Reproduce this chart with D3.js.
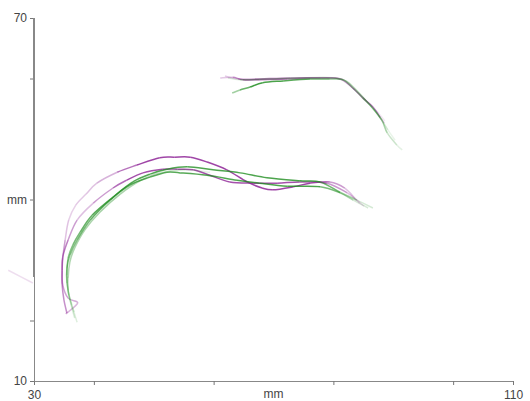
<!DOCTYPE html>
<html>
<script src="https://cdn.jsdelivr.net/npm/d3@7"></script>
<style>
    body { margin: 0; background: #fff; }
    .tick text { font-family: "Liberation Sans", Arial, sans-serif; font-size: 12px; fill: #444; }
    .tick line { stroke: #777; }
    .domain { stroke: #888; }
</style>
<body></body>
<script>
    const width = 530,
        height = 401;

    // x/y in mm
    const purpleOuter = [[35.5,21.2],[35.0,23.4],[34.7,25.9],[34.7,28.3],[34.8,30.3],[35.2,33.3],[35.8,36.6],[37.0,39.1],[38.7,40.9],[40.5,42.7],[43.9,44.5],[47.2,45.7],[51.0,46.9],[53.5,47.0],[56.1,47.0],[58.9,46.2],[62.2,44.9],[65.6,42.9],[68.1,41.9],[69.9,41.6],[73.3,42.1],[76.1,42.7],[79.4,42.9],[81.9,41.9],[83.6,40.2],[84.4,39.4]];
    const purpleInner = [[35.3,21.1],[37.3,22.9],[35.7,23.7],[34.8,25.9],[34.7,28.3],[34.8,30.5],[35.7,33.3],[37.2,36.6],[39.9,39.4],[43.2,41.9],[45.5,43.2],[48.2,44.4],[51.5,45.0],[54.0,45.0],[56.6,44.9],[59.4,44.0],[62.7,42.9],[66.6,42.7],[70.6,42.7],[74.4,42.9],[78.9,42.7],[82.3,41.1],[83.9,39.9],[85.1,38.9]];
    const greenUpper = [[37.2,19.7],[36.3,22.6],[35.7,25.0],[35.5,27.5],[35.7,30.3],[36.5,32.5],[37.7,34.6],[39.7,37.4],[43.2,40.4],[46.5,42.9],[49.4,44.2],[52.2,45.0],[55.6,45.4],[59.9,44.9],[64.4,44.4],[68.9,43.6],[74.4,43.1],[77.8,42.9],[81.1,41.2],[83.9,39.9],[86.6,38.6]];
    const greenLower = [[36.8,20.4],[36.0,23.4],[35.5,26.2],[35.5,28.7],[36.0,30.8],[37.2,33.3],[39.4,36.6],[42.7,39.9],[46.0,42.4],[49.4,43.7],[52.2,44.5],[54.4,44.4],[58.9,44.0],[63.9,43.2],[67.7,42.7],[72.3,42.2],[77.8,42.1],[81.1,41.1],[83.3,39.9],[85.8,38.6]];
    const greenThird = [[36.7,21.4],[35.8,24.2],[35.7,27.0],[36.0,29.7],[36.8,32.0],[38.5,35.0],[41.0,37.9],[44.4,40.9],[47.7,43.1],[51.0,44.4],[55.2,44.9],[59.4,44.5]];
    const purpleTop1 = [[61.1,60.1],[63.2,60.2],[64.9,59.8],[67.7,59.8],[72.3,59.9],[76.1,60.1],[79.4,60.1],[81.6,59.8],[83.3,58.4],[84.9,56.8],[86.6,55.3],[87.8,53.6],[88.5,52.6]];
    const purpleTop2 = [[61.9,60.4],[64.1,59.9],[66.9,59.9],[72.8,60.1],[77.8,60.1],[81.1,59.9],[83.6,58.1],[85.8,56.0],[87.5,54.3],[88.6,53.0]];
    const greenTop1 = [[63.1,57.6],[64.4,58.1],[66.1,58.6],[68.2,59.3],[71.6,59.6],[76.1,59.9],[79.4,59.9],[81.6,59.8],[83.3,58.4],[84.9,56.8],[86.6,55.1],[88.1,53.1],[89.0,51.0],[90.6,49.0],[91.5,48.2]];
    const greenTop2 = [[62.4,60.1],[64.4,59.8],[68.6,59.9],[74.4,60.1],[80.3,60.1],[82.4,59.4],[84.1,57.8],[86.1,55.6],[87.8,53.5],[89.1,51.5],[90.3,49.8]];
    const stray = [[25.7,28.3],[29.8,26.2]];

    const xTicks = [30, 40, 60, 80, 100, 110];
    const yTicks = [70, 60, 40, 20, 10];

    const purple = "#8e2496",
        green = "#1d8c1d";

    // opacity stops along each trace (fraction of length, opacity)
    const traces = [
        {data: purpleOuter, color: purple, stops: [[0,0.5],[0.12,0.55],[0.22,0.2],[0.35,0.3],[0.45,0.85],[0.85,0.85],[1,0.12]]},
        {data: purpleInner, color: purple, stops: [[0,0.3],[0.1,0.45],[0.18,0.6],[0.3,0.25],[0.42,0.8],[0.85,0.8],[1,0.12]]},
        {data: greenUpper, color: green, stops: [[0,0.08],[0.12,0.45],[0.3,0.75],[0.85,0.8],[1,0.08]]},
        {data: greenLower, color: green, stops: [[0,0.1],[0.12,0.45],[0.3,0.7],[0.85,0.8],[1,0.08]]},
        {data: greenThird, color: green, stops: [[0,0.08],[0.2,0.35],[0.6,0.4],[1,0.08]]},
        {data: purpleTop1, color: purple, stops: [[0,0.1],[0.15,0.75],[0.45,0.55],[0.7,0.4],[0.9,0.7],[1,0.15]]},
        {data: purpleTop2, color: purple, stops: [[0,0.12],[0.2,0.6],[0.5,0.55],[0.8,0.25],[1,0.08]]},
        {data: greenTop1, color: green, stops: [[0,0.3],[0.1,0.85],[0.4,0.7],[0.6,0.3],[0.8,0.5],[1,0.08]]},
        {data: greenTop2, color: green, stops: [[0,0.08],[0.15,0.4],[0.5,0.25],[0.8,0.35],[1,0.05]]},
        {data: stray, color: purple, stops: [[0,0.05],[0.5,0.15],[1,0.1]]}
    ];

    const svg = d3.select("body").append("svg").attr("width", width).attr("height", height);

    const x = d3.scaleLinear().domain([30, 110]).range([34, 513]);
    const y = d3.scaleLinear().domain([10, 70]).range([381, 18]);

    // traces, drawn as catmull-rom pieces so each piece can have its own opacity
    const g = svg.append("g");
    for (const tr of traces) {
        const p = tr.data.map(d => [x(d[0]), y(d[1])]);
        const lens = [0];
        for (let i = 1; i < p.length; i++) {
            lens.push(lens[i - 1] + Math.hypot(p[i][0] - p[i - 1][0], p[i][1] - p[i - 1][1]));
        }
        const total = lens[lens.length - 1];
        const op = d3.scaleLinear().domain(tr.stops.map(s => s[0])).range(tr.stops.map(s => s[1]));
        for (let i = 0; i < p.length - 1; i++) {
            const p0 = p[Math.max(i - 1, 0)], p1 = p[i], p2 = p[i + 1], p3 = p[Math.min(i + 2, p.length - 1)];
            const c1 = [p1[0] + (p2[0] - p0[0]) / 6, p1[1] + (p2[1] - p0[1]) / 6];
            const c2 = [p2[0] - (p3[0] - p1[0]) / 6, p2[1] - (p3[1] - p1[1]) / 6];
            const t = (lens[i] + lens[i + 1]) / 2 / total;
            g.append("path")
                .attr("d", `M${p1}C${c1} ${c2} ${p2}`)
                .attr("fill", "none")
                .attr("stroke", tr.color)
                .attr("stroke-width", 1.5)
                .attr("stroke-opacity", op(t));
        }
    }

    // axes
    svg.append("g")
        .attr("transform", `translate(0,${y(10)})`)
        .call(d3.axisBottom(x).tickValues(xTicks).tickSize(4).tickSizeOuter(0)
            .tickFormat(d => (d === 30 || d === 110) ? d : ""))
        .call(a => a.selectAll(".tick text").attr("dy", "0.9em"));
    svg.append("g")
        .attr("transform", `translate(${x(30)},0)`)
        .call(d3.axisLeft(y).tickValues(yTicks).tickSize(4).tickSizeOuter(0)
            .tickFormat(d => d === 40 ? "mm" : (d === 70 || d === 10) ? d : ""));
    // darker upper stretch of the y axis line
    svg.append("line")
        .attr("x1", x(30)).attr("x2", x(30))
        .attr("y1", y(70)).attr("y2", y(27.2))
        .attr("stroke", "#888").attr("stroke-width", 2);

    svg.append("text")
        .attr("x", x(70)).attr("y", y(10) + 17)
        .attr("text-anchor", "middle")
        .style("font-family", "Liberation Sans, Arial, sans-serif")
        .style("font-size", "12px")
        .attr("fill", "#444")
        .text("mm");
</script>
</html>
